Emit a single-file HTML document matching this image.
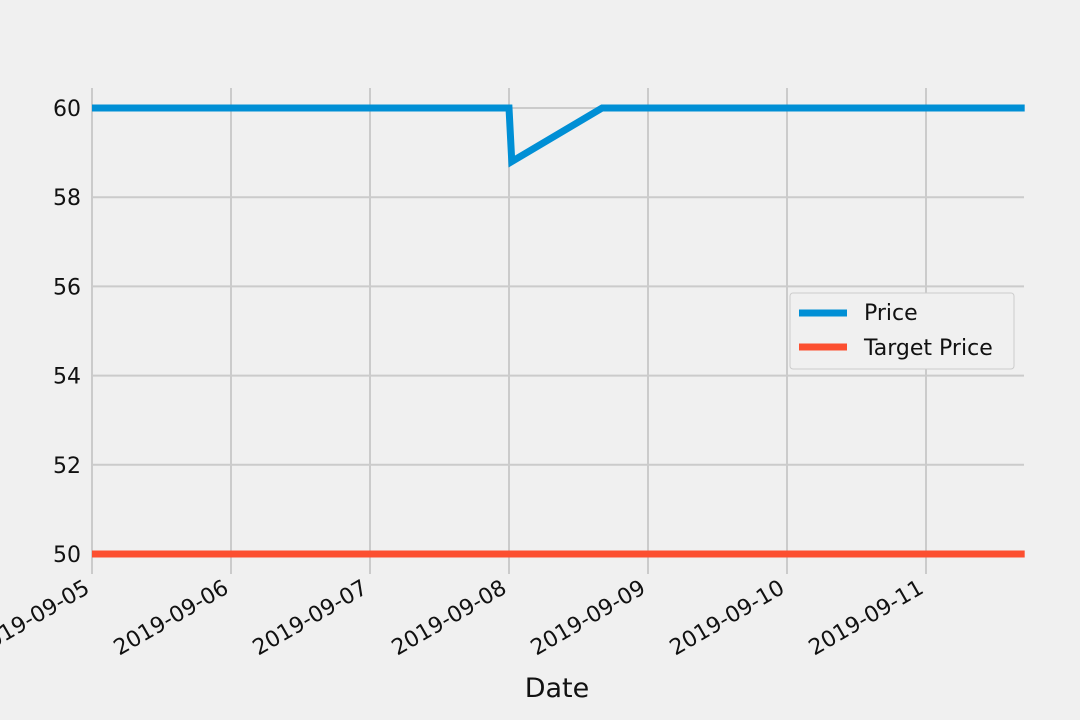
<!DOCTYPE html>
<html><head><meta charset="utf-8"><style>
html,body{margin:0;padding:0;background:#f0f0f0;}
svg{display:block;font-family:"DejaVu Sans","Liberation Sans",sans-serif;}
</style></head><body>
<svg id="chart" width="1080" height="720" xmlns="http://www.w3.org/2000/svg">
<rect width="1080" height="720" fill="#f0f0f0"/>
<g id="grid"></g><g id="series"></g><g id="labels"></g>
<g>
<rect x="790" y="293" width="224" height="76" rx="3" fill="#f0f0f0" stroke="#cccccc" stroke-width="1"/>
<line x1="799" y1="313" x2="847" y2="313" stroke="#008fd5" stroke-width="7"/>
<text x="864" y="320" font-size="22" fill="#111">Price</text>
<line x1="799" y1="347" x2="847" y2="347" stroke="#fc4f30" stroke-width="7"/>
<text x="864" y="355" font-size="22" fill="#111">Target Price</text>
</g>
<text x="557" y="697" font-size="27" text-anchor="middle" fill="#111">Date</text>
</svg>
<script>
// x values in days since 2019-09-05
const priceDays = [0, 3.0, 3.02, 3.67, 6.71];
const priceValues = [60, 60, 58.8, 60, 60];
const targetDays = [0, 6.71];
const targetValues = [50, 50];
const yTicks = [50, 52, 54, 56, 58, 60];
const xTickDays = [0, 1, 2, 3, 4, 5, 6];
const xTickLabels = ["2019-09-05","2019-09-06","2019-09-07","2019-09-08","2019-09-09","2019-09-10","2019-09-11"];

const X0 = 92, PXD = 139, XR = 1024;
const xs = d => X0 + d * PXD;
const ys = v => 108 + (60 - v) * 44.6;
const ns = "http://www.w3.org/2000/svg";
const grid = document.getElementById('grid'), series = document.getElementById('series'), labels = document.getElementById('labels');
function mk(tag, attrs, parent){const e=document.createElementNS(ns,tag);for(const k in attrs)e.setAttribute(k,attrs[k]);parent.appendChild(e);return e;}
yTicks.forEach(v=>{
  const l=mk('line',{x1:X0,x2:XR,y1:ys(v),y2:ys(v),stroke:'#cbcbcb','stroke-width':2},grid);
  
  
  const t=mk('text',{x:81,y:ys(v)+8,'font-size':22,'text-anchor':'end',fill:'#111'},labels);
  t.textContent=v;
  
  
});
xTickDays.forEach((d,i)=>{
  const l=mk('line',{x1:xs(d),x2:xs(d),y1:88,y2:574,stroke:'#cbcbcb','stroke-width':2},grid);
  
  
  const t=mk('text',{x:0,y:0,'font-size':22,'text-anchor':'end',fill:'#111',transform:`translate(${xs(d)-1},${592}) rotate(-30)`},labels);
  t.textContent=xTickLabels[i];
  
  
});
function line(days, vals, color, name){
  const p=mk('polyline',{points:days.map((d,i)=>xs(d)+','+ys(vals[i])).join(' '),fill:'none',stroke:color,'stroke-width':7,'stroke-linejoin':'miter'},series);
  
  
}
line(targetDays,targetValues,'#fc4f30','target-price-line');
line(priceDays,priceValues,'#008fd5','price-line');
</script>
</body></html>
